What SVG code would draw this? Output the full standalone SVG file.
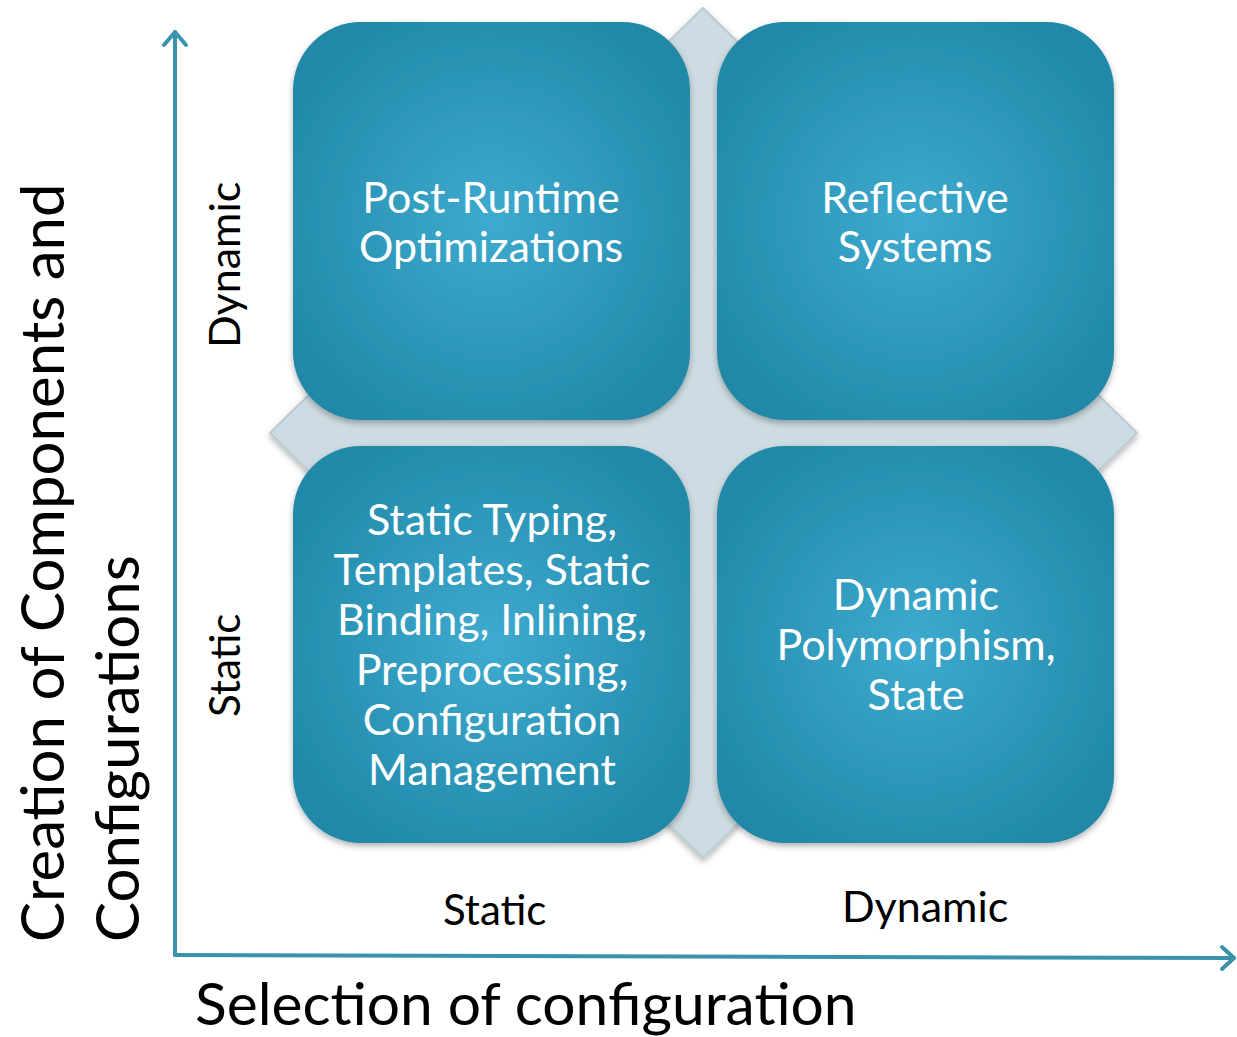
<svg xmlns="http://www.w3.org/2000/svg" width="1237" height="1037" viewBox="0 0 1237 1037">
<style>
.box{fill:url(#g);filter:url(#sh)}
.bt{font-family:Lato,"Open Sans",sans-serif;font-size:43px;fill:#ffffff;text-anchor:middle}
.lb{font-family:Lato,"Open Sans",sans-serif;fill:#000000}
.ax{stroke:#3a93ab;stroke-width:4;fill:none;stroke-linecap:round;stroke-linejoin:round}
</style>
<defs>
<radialGradient id="g" cx="0.5" cy="0.5" r="0.6">
<stop offset="0" stop-color="#3eaacf"/>
<stop offset="1" stop-color="#2088a7"/>
</radialGradient>
<filter id="sh" x="-10%" y="-10%" width="120%" height="120%">
<feDropShadow dx="0" dy="3" stdDeviation="3" flood-color="#000" flood-opacity="0.3"/>
</filter>
</defs>
<g id="diamond">
<polygon points="703,8 1137,433 703,858 270,433" fill="#cddce2" stroke="#bccbd1" stroke-width="2" stroke-linejoin="round" filter="url(#sh)"/>
</g>
<g id="axes" class="connectors">
<path class="ax" d="M175,955 L175,32"/>
<path class="ax" stroke-width="5" d="M164,45 L175,32 L186,45"/>
<path class="ax" d="M175,955 L1234,958"/>
<path class="ax" stroke-width="5" d="M1222,947 L1234,958 L1222,969"/>
</g>
<g id="n-tl">
<rect class="box" x="293" y="22" width="397" height="398" rx="68"/>
<text class="bt" x="491" y="213">Post-Runtime</text>
<text class="bt" x="491" y="262">Optimizations</text>
</g>
<g id="n-tr">
<rect class="box" x="717" y="22" width="397" height="398" rx="68"/>
<text class="bt" x="915" y="213">Reflective</text>
<text class="bt" x="915" y="262">Systems</text>
</g>
<g id="n-bl">
<rect class="box" x="293" y="446" width="397" height="397" rx="68"/>
<text class="bt" x="492" y="535">Static Typing,</text>
<text class="bt" x="492" y="585">Templates, Static</text>
<text class="bt" x="492" y="635">Binding, Inlining,</text>
<text class="bt" x="492" y="685">Preprocessing,</text>
<text class="bt" x="492" y="735">Configuration</text>
<text class="bt" x="492" y="785">Management</text>
</g>
<g id="n-br">
<rect class="box" x="717" y="446" width="397" height="397" rx="68"/>
<text class="bt" x="916" y="610">Dynamic</text>
<text class="bt" x="916" y="660">Polymorphism,</text>
<text class="bt" x="916" y="710">State</text>
</g>
<g id="labels">
<text class="lb" font-size="43" transform="translate(240,348) rotate(-90)">Dynamic</text>
<text class="lb" font-size="42" transform="translate(240,717) rotate(-90)">Static</text>
<text class="lb" font-size="42" x="443" y="925">Static</text>
<text class="lb" font-size="43" x="842" y="922">Dynamic</text>
<text class="lb" font-size="60" transform="translate(64,942) rotate(-90)">Creation of Components and</text>
<text class="lb" font-size="60" transform="translate(139,942) rotate(-90)">Configurations</text>
<text class="lb" font-size="58.7" x="195" y="1025">Selection of configuration</text>
</g>
</svg>
